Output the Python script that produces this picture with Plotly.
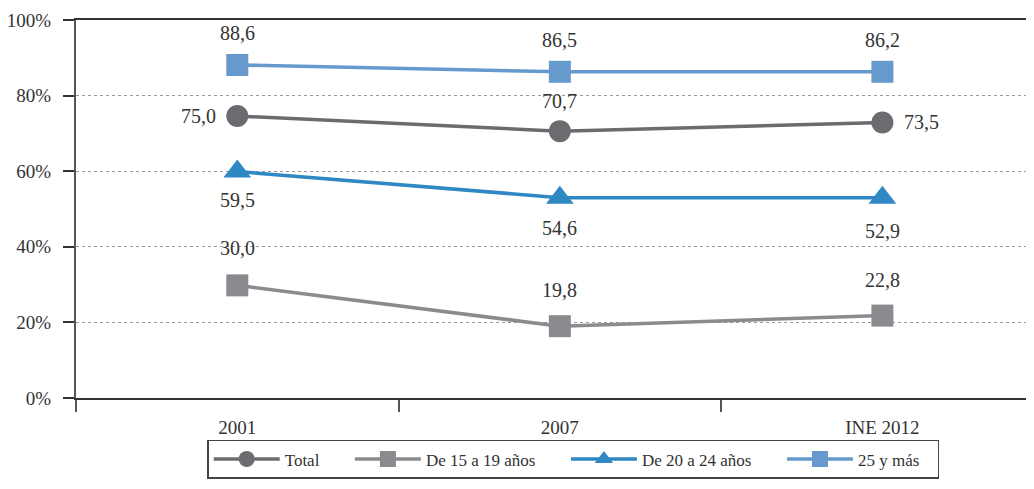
import plotly.graph_objects as go

categories = ["2001", "2007", "INE 2012"]
series_names = ["Total", "De 15 a 19 años", "De 20 a 24 años", "25 y más"]
total_vals = [74.6, 70.6, 72.9]
de15_19_vals = [29.8, 19.0, 21.8]
de20_24_vals = [59.9, 53.0, 53.0]
de25_mas_vals = [88.1, 86.3, 86.3]
total_labels = ["75,0", "70,7", "73,5"]
de15_19_labels = ["30,0", "19,8", "22,8"]
de20_24_labels = ["59,5", "54,6", "52,9"]
de25_mas_labels = ["88,6", "86,5", "86,2"]
y_ticks = [0, 20, 40, 60, 80, 100]
y_tick_labels = ["0%", "20%", "40%", "60%", "80%", "100%"]

colors = ["#6b6c70", "#8a8b8e", "#2f87c3", "#6699cc"]
symbols = ["circle", "square", "triangle-up", "square"]
sizes = [22, 22, 24, 22]
legend_pad = [6, 6, 6, 3]  # trailing spacing in legend entries
FONT = "Liberation Serif"
TXT = "#333333"

fig = go.Figure()
all_vals = [total_vals, de15_19_vals, de20_24_vals, de25_mas_vals]
for name, vals, c, s, sz, pad in zip(series_names, all_vals, colors, symbols, sizes, legend_pad):
    fig.add_trace(go.Scatter(
        x=categories, y=vals, name=name + "\u00a0" * pad, mode="lines+markers",
        line=dict(color=c, width=3.5),
        marker=dict(symbol=s, size=sz, color=c),
    ))

# label placements (per series, per point): (xshift, yshift, xanchor)
placements = {
    0: [(-19, 0, "right"), (0, 30, "center"), (20, 0, "left")],
    1: [(0, 37, "center"), (0, 36, "center"), (0, 36, "center")],
    2: [(0, -28, "center"), (0, -30, "center"), (0, -33, "center")],
    3: [(0, 32, "center"), (0, 32, "center"), (0, 32, "center")],
}
all_labels = [total_labels, de15_19_labels, de20_24_labels, de25_mas_labels]
for i, (vals, labs) in enumerate(zip(all_vals, all_labels)):
    for j, (v, lab) in enumerate(zip(vals, labs)):
        xs, ys, xa = placements[i][j]
        fig.add_annotation(x=j, y=v, xref="x", yref="y", text=lab, showarrow=False,
                           xshift=xs, yshift=ys, xanchor=xa,
                           font=dict(family=FONT, size=20, color=TXT))

fig.update_layout(
    width=1034, height=489,
    margin=dict(l=68, r=8, t=12, b=99),
    paper_bgcolor="white", plot_bgcolor="white",
    font=dict(family=FONT, size=19, color=TXT),
    showlegend=True,
    legend=dict(orientation="h", x=0.519, xanchor="center", y=-0.111, yanchor="top",
                bordercolor="#444444", borderwidth=1.5, bgcolor="white",
                font=dict(family=FONT, size=17, color=TXT),
                itemwidth=66, tracegroupgap=0),
)
fig.update_xaxes(
    type="category", range=[-0.5, 2.47], automargin=False,
    showline=True, linecolor="#333333", linewidth=2, mirror=True,
    ticks="outside", ticklen=12, tickcolor="#555555", tickwidth=2,
    tickson="boundaries", showgrid=False, zeroline=False,
    ticklabelstandoff=11,
    tickfont=dict(family=FONT, size=19, color=TXT),
)
fig.update_yaxes(
    range=[0, 100], tickvals=y_ticks, ticktext=y_tick_labels, automargin=False,
    showline=True, linecolor="#555555", linewidth=2,
    ticks="outside", ticklen=11, tickcolor="#333333", tickwidth=1.5,
    showgrid=True, gridcolor="#999999", griddash="dot", gridwidth=1,
    zeroline=False, ticklabelstandoff=8,
    tickfont=dict(family=FONT, size=19, color=TXT),
)
fig.write_html("out.html")
